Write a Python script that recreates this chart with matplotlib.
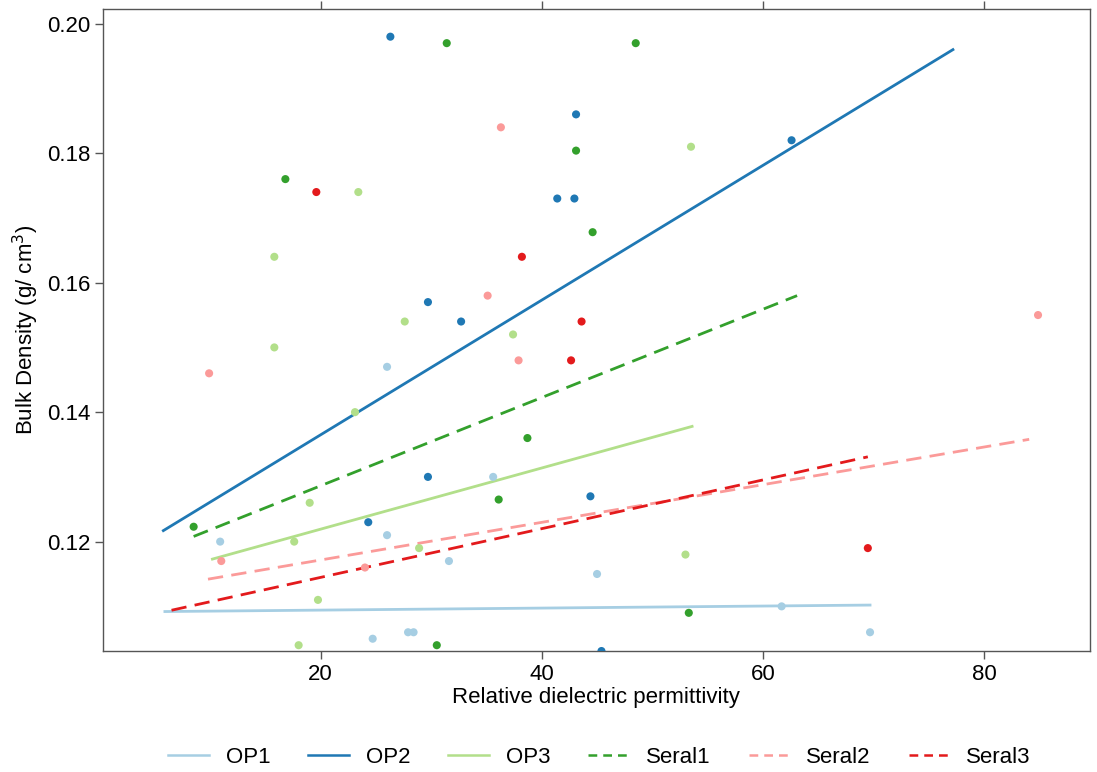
import matplotlib
matplotlib.use("Agg")
import matplotlib.pyplot as plt
from matplotlib.lines import Line2D

plt.rcParams["font.family"] = ["Liberation Sans", "DejaVu Sans"]

GROUPS = ["OP1", "OP2", "OP3", "Seral1", "Seral2", "Seral3"]
COLORS = ["#a6cee3", "#1f78b4", "#b2df8a", "#33a02c", "#fb9a99", "#e31a1c"]
STYLES = ["-", "-", "-", "--", "--", "--"]

# scatter points (relative permittivity, bulk density)
op1_x = [10.9, 26.0, 26.0, 24.7, 27.9, 28.4, 31.6, 35.6, 45.0, 61.7, 69.7]
op1_y = [0.120, 0.147, 0.121, 0.105, 0.106, 0.106, 0.117, 0.130, 0.115, 0.110, 0.106]
op2_x = [26.3, 43.1, 41.4, 42.95, 29.7, 32.7, 29.7, 24.3, 44.4, 45.4, 62.6]
op2_y = [0.198, 0.186, 0.173, 0.173, 0.157, 0.154, 0.130, 0.123, 0.127, 0.1031, 0.182]
op3_x = [15.8, 23.4, 15.8, 23.1, 19.0, 17.6, 19.75, 18.0, 27.6, 37.4, 28.9, 53.0, 53.5]
op3_y = [0.164, 0.174, 0.150, 0.140, 0.126, 0.120, 0.111, 0.104, 0.154, 0.152, 0.119, 0.118, 0.181]
seral1_x = [16.8, 31.4, 48.5, 43.1, 44.6, 8.5, 38.7, 36.1, 30.5, 53.3]
seral1_y = [0.176, 0.197, 0.197, 0.1804, 0.1678, 0.1223, 0.136, 0.1265, 0.104, 0.109]
seral2_x = [9.9, 11.0, 24.0, 36.3, 35.1, 37.9, 84.9]
seral2_y = [0.146, 0.117, 0.116, 0.184, 0.158, 0.148, 0.155]
seral3_x = [19.6, 38.2, 43.6, 42.65, 69.5]
seral3_y = [0.174, 0.164, 0.154, 0.148, 0.119]

# fitted line end points
fit_x = [(5.9, 69.7), (5.76, 77.2), (10.2, 53.6), (8.5, 63.1), (9.8, 84.1), (6.5, 69.5)]
fit_y = [(0.1092, 0.1102), (0.1217, 0.196), (0.1173, 0.1378),
         (0.1208, 0.158), (0.1142, 0.1358), (0.1094, 0.1331)]

points = [(op1_x, op1_y), (op2_x, op2_y), (op3_x, op3_y),
          (seral1_x, seral1_y), (seral2_x, seral2_y), (seral3_x, seral3_y)]

fig = plt.figure(figsize=(10.97, 7.72), dpi=100)
ax = fig.add_axes([0.0936, 0.1567, 0.9, 0.831])

for (px, py), c in zip(points, COLORS):
    ax.scatter(px, py, s=34, color=c, edgecolors="none", zorder=3)

handles = []
for name, c, ls, lx, ly in zip(GROUPS, COLORS, STYLES, fit_x, fit_y):
    line, = ax.plot(lx, ly, color=c, lw=2, ls=ls, zorder=2)
    h = Line2D([], [], color=c, lw=1.8, ls=ls, label=name)
    if ls == "--":
        line.set_dashes((5.5, 3))
        h.set_dashes((3.5, 2.4))
    handles.append(h)

ax.set_xlim(0.27, 89.6)
ax.set_ylim(0.1031, 0.2022)
ax.set_xticks([20, 40, 60, 80])
ax.set_yticks([0.12, 0.14, 0.16, 0.18, 0.20])
ax.set_yticklabels(["0.12", "0.14", "0.16", "0.18", "0.20"])
ax.tick_params(axis="both", direction="out", length=6, width=1, color="#555555",
               labelsize=16, pad=3)
ax.tick_params(axis="x", top=True)
for sp in ax.spines.values():
    sp.set_color("#555555")
    sp.set_linewidth(1)

ax.set_xlabel("Relative dielectric permittivity", fontsize=16, labelpad=2)
ax.set_ylabel(r"Bulk Density (g/ cm$^3$)", fontsize=16, labelpad=4)

fig.legend(handles=handles, loc="center", bbox_to_anchor=(0.5465, 0.019), ncol=6,
           frameon=False, fontsize=16, handlelength=1.85, handletextpad=0.75,
           columnspacing=1.7)

fig.savefig("out.png", dpi=100)
